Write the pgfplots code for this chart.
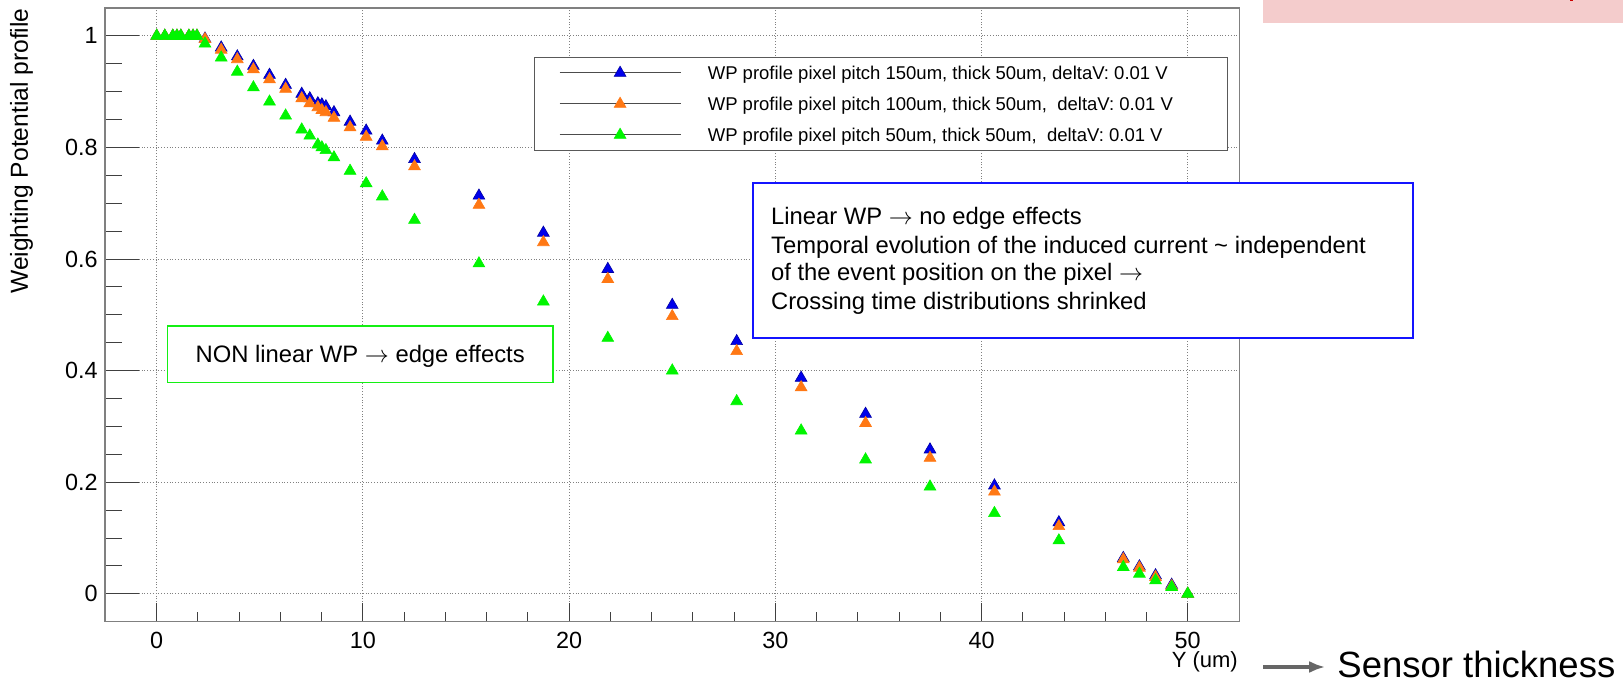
\documentclass[border=0pt]{standalone}
\usepackage{pgfplots}
\usepackage{pgfplotstable}
\pgfplotsset{compat=1.18}
\usepackage{fontspec}
\setmainfont{Liberation Sans}
\usetikzlibrary{arrows.meta}
\definecolor{wpblue}{RGB}{0,0,235}
\definecolor{wporange}{RGB}{255,120,20}
\definecolor{wpgreen}{RGB}{0,245,0}
\definecolor{pinkbox}{RGB}{244,204,204}
\definecolor{annblue}{RGB}{20,20,255}
\definecolor{anngreen}{RGB}{20,240,20}

\pgfplotstableread{
x y
0 1
0.39 1
0.78 1
0.98 1
1.17 1
1.56 1
1.76 1
1.95 1
2.34 0.995
3.125 0.979
3.906 0.963
4.688 0.946
5.469 0.930
6.25 0.912
7.031 0.896
7.422 0.888
7.813 0.879
8.008 0.877
8.203 0.8735
8.594 0.863
9.375 0.846
10.156 0.830
10.938 0.812
12.5 0.779
15.625 0.7135
18.75 0.647
21.875 0.582
25 0.5176
28.125 0.4526
31.25 0.387
34.375 0.3224
37.5 0.2585
40.625 0.194
43.75 0.128
46.875 0.064
47.656 0.049
48.438 0.033
49.219 0.016
50 0
}\wpA

\pgfplotstableread{
x y
0 1
0.39 1
0.78 1
0.98 1
1.17 1
1.56 1
1.76 1
1.95 1
2.34 0.994
3.125 0.975
3.906 0.958
4.688 0.940
5.469 0.922
6.25 0.905
7.031 0.888
7.422 0.879
7.813 0.872
8.008 0.867
8.203 0.863
8.594 0.853
9.375 0.836
10.156 0.819
10.938 0.802
12.5 0.766
15.625 0.697
18.75 0.630
21.875 0.564
25 0.4974
28.125 0.4347
31.25 0.370
34.375 0.306
37.5 0.2436
40.625 0.183
43.75 0.121
46.875 0.0615
47.656 0.0466
48.438 0.030
49.219 0.0138
50 0
}\wpB

\pgfplotstableread{
x y
0 1
0.39 1
0.78 1
0.98 1
1.17 1
1.56 1
1.76 1
1.95 1
2.34 0.986
3.125 0.961
3.906 0.9356
4.688 0.9075
5.469 0.882
6.25 0.857
7.031 0.832
7.422 0.821
7.813 0.805
8.008 0.800
8.203 0.795
8.594 0.782
9.375 0.758
10.156 0.7356
10.938 0.712
12.5 0.670
15.625 0.592
18.75 0.5236
21.875 0.4585
25 0.400
28.125 0.345
31.25 0.2925
34.375 0.2406
37.5 0.192
40.625 0.1445
43.75 0.0955
46.875 0.0478
47.656 0.0358
48.438 0.0239
49.219 0.012
50 0
}\wpC

\pgfplotsset{wpleg/.style={legend image code/.code={%
  \draw[black!70,line width=0.5pt,solid] (0pt,0pt) -- (60.4pt,0pt);
  \draw[mark repeat=2,mark phase=2,##1] plot coordinates {(0pt,0pt) (30.2pt,0pt) (60.4pt,0pt)};}}}

\begin{document}
\begin{tikzpicture}
% y ticks and y grid
\begin{axis}[at={(0,0)}, anchor=south west, scale only axis,
  width=567.05pt, height=306.85pt,
  xmin=-2.5, xmax=52.5, ymin=-0.05, ymax=1.05,
  axis line style={draw=none},
  xtick=\empty,
  ytick={0,0.2,0.4,0.6,0.8,1}, minor y tick num=3,
  ytick pos=left, tick align=inside,
  major tick length=17pt, minor tick length=8.5pt,
  tick style={black!75, line width=0.5pt},
  ymajorgrids, major grid style={densely dotted, black!50, line width=0.5pt},
  /pgf/number format/assume math mode=true,
  yticklabel style={font=\fontsize{11.7}{14}\selectfont, inner sep=0pt, xshift=-3.6pt},
]
\addplot[draw=none, forget plot] coordinates {(0,0)};
\end{axis}
% data, x ticks, x grid, frame, legend
\begin{axis}[at={(0,0)}, anchor=south west, scale only axis,
  width=567.05pt, height=306.85pt,
  xmin=-2.5, xmax=52.5, ymin=-0.05, ymax=1.05,
  axis line style={black!50, line width=0.7pt},
  ytick=\empty,
  xtick={0,10,20,30,40,50}, minor x tick num=4,
  xtick pos=left, tick align=inside,
  major tick length=9.2pt, minor tick length=4.6pt,
  tick style={black!75, line width=0.5pt},
  xmajorgrids, major grid style={densely dotted, black!50, line width=0.5pt},
  /pgf/number format/assume math mode=true,
  xticklabel style={font=\fontsize{11.7}{14}\selectfont, inner sep=0pt, yshift=-5pt},
  legend style={at={(0.3781,0.9202)}, anchor=north west, draw=black!65, line width=0.5pt,
    fill=white, inner xsep=12.35pt, inner ysep=0pt, row sep=0pt,
    /tikz/column sep=13.4pt, cells={anchor=west},
    nodes={inner sep=0pt, text height=11.05pt, text depth=4.45pt,
      font=\fontsize{9.25}{11}\selectfont}},
]
\addplot[only marks, mark=triangle*, mark size=3.4pt, color=wpblue,
  mark options={fill=wpblue, draw=wpblue!70!black, line width=0.3pt}, wpleg]
  table[x=x, y=y] {\wpA};
\addlegendentry{\makebox[247.5pt][l]{WP profile pixel pitch 150um, thick 50um, deltaV: 0.01 V}}
\addplot[only marks, mark=triangle*, mark size=3.4pt, color=wporange,
  mark options={fill=wporange, draw=wporange, line width=0.3pt}, wpleg]
  table[x=x, y=y] {\wpB};
\addlegendentry{\makebox[247.5pt][l]{WP profile pixel pitch 100um, thick 50um,\ \ deltaV: 0.01 V}}
\addplot[only marks, mark=triangle*, mark size=3.4pt, color=wpgreen,
  mark options={fill=wpgreen, draw=wpgreen, line width=0.3pt}, wpleg]
  table[x=x, y=y] {\wpC};
\addlegendentry{\makebox[247.5pt][l]{WP profile pixel pitch 50um, thick 50um,\ \ deltaV: 0.01 V}}
\end{axis}
% axis titles
\node[rotate=90, anchor=east, inner sep=0pt, font=\fontsize{12.3}{15}\selectfont]
  at (-41.8pt,306.85pt) {Weighting Potential profile};
\node[anchor=east, inner sep=0pt, font=\fontsize{11}{13}\selectfont]
  at (566.5pt,-19.9pt) {Y (um)};
% annotation boxes
\draw[anngreen, line width=0.8pt, fill=white] (31.2pt,119.5pt) rectangle (223.9pt,147.85pt);
\node[anchor=base, inner sep=0pt, font=\fontsize{11.9}{14}\selectfont]
  at (127.5pt,129.5pt) {NON linear WP $\rightarrow$ edge effects};
\draw[annblue, line width=0.8pt, fill=white] (323.75pt,141.7pt) rectangle (653.75pt,219.2pt);
\begin{scope}[every node/.style={anchor=base west, inner sep=0pt, font=\fontsize{11.9}{14}\selectfont}]
\node at (332.75pt,198.35pt) {Linear WP $\rightarrow$ no edge effects};
\node at (332.75pt,184.2pt) {Temporal evolution of the induced current \textasciitilde\ independent};
\node at (332.75pt,170.35pt) {of the event position on the pixel $\rightarrow$};
\node at (332.75pt,155.85pt) {Crossing time distributions shrinked};
\end{scope}
% sensor thickness arrow
\draw[black!60, line width=1.6pt, -{Latex[length=8pt,width=6pt]}] (578.9pt,-22.65pt) -- (610pt,-22.65pt);
\node[anchor=base west, inner sep=0pt, font=\fontsize{18.25}{22}\selectfont]
  at (615.9pt,-28.1pt) {Sensor thickness};
% pink banner
\fill[pinkbox] (578.9pt,299.35pt) rectangle (758.9pt,310.85pt);
\fill[red!80!black] (732.5pt,310.2pt) rectangle (734pt,310.85pt);
\pgfresetboundingbox
\path[use as bounding box] (-52.6pt,-29.15pt) rectangle (758.9pt,310.85pt);
\end{tikzpicture}
\end{document}
